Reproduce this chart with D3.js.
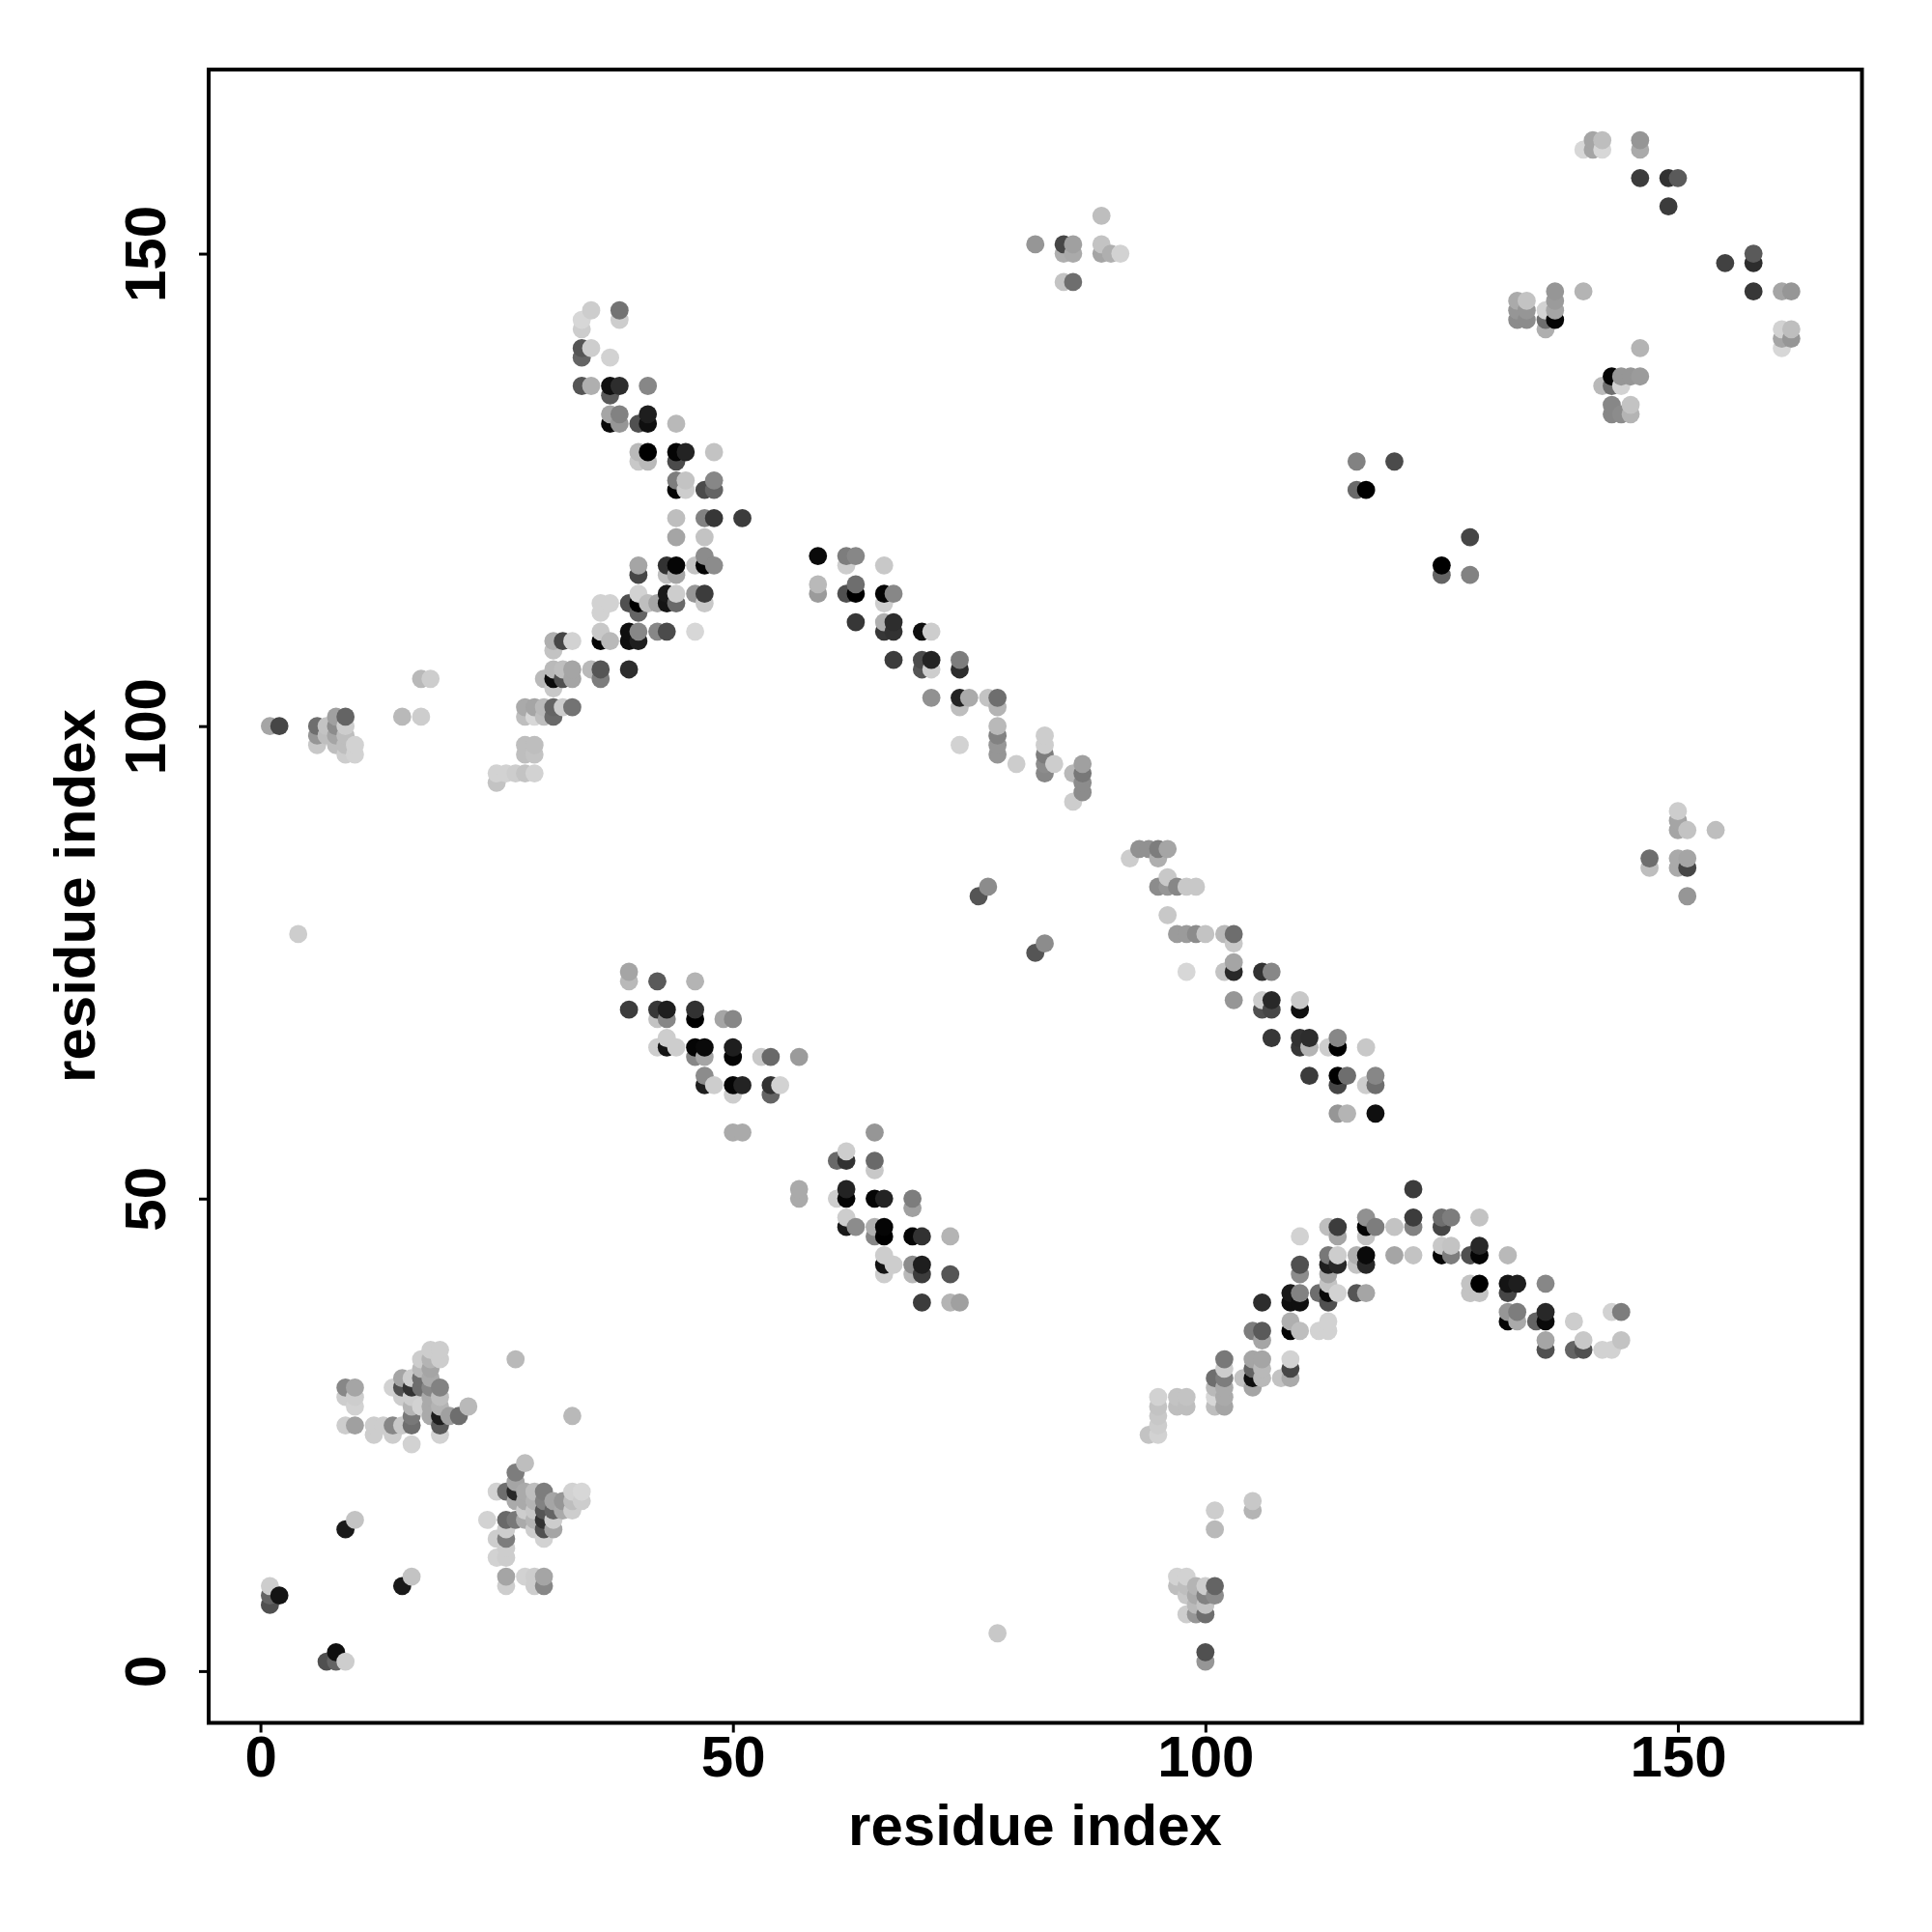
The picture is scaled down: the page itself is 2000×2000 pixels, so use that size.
<!DOCTYPE html>
<html><head><meta charset="utf-8">
<script src="https://cdnjs.cloudflare.com/ajax/libs/d3/7.8.5/d3.min.js"></script>
<style>html,body{margin:0;background:#fff}svg{display:block}text{font-family:"Liberation Sans",Arial,sans-serif;font-weight:700;fill:#000}</style>
</head><body><div id="c"></div>
<script>
// each contact: [residue i, residue j, grey level]
const lowerLeft=[[1,9,205],[1,8,100],[1,7,80],[2,8,20],[7,1,80],[8,1,100],[8,2,15],[9,1,205],[9,15,25],[10,16,195],[15,9,25],[16,10,195],[78,4,200],[4,78,205]];
const clusterA=[[9,30,135],[10,30,165],[9,29,205],[10,29,205],[10,28,210],[9,26,205],[10,26,160],[12,26,205],[12,25,205],[13,26,205],[14,25,205],[14,26,135],[15,26,200],[16,26,110],[16,27,120],[16,24,210],[14,30,210],[15,31,165],[15,30,80],[15,29,205],[16,31,205],[16,30,50],[16,29,205],[16,28,180],[17,33,205],[17,32,185],[17,31,110],[17,30,110],[17,28,210],[18,34,205],[18,33,180],[18,32,165],[18,31,170],[18,30,135],[18,29,170],[18,28,170],[18,27,170],[19,34,205],[19,33,205],[19,30,130],[19,29,190],[19,28,180],[19,27,30],[19,26,90],[19,25,210],[20,27,160],[21,27,110],[22,28,185],[27,33,185],[33,27,185]];
const clusterB=[[28,22,190],[27,21,125],[27,20,165],[25,19,210],[26,19,110],[27,19,40],[27,18,170],[28,19,170],[28,18,170],[28,17,205],[28,16,170],[29,19,190],[29,18,180],[29,17,200],[29,16,180],[29,15,205],[30,19,125],[30,18,130],[30,17,85],[30,16,50],[30,15,80],[30,14,210],[31,18,165],[31,17,100],[31,16,205],[31,15,165],[32,18,150],[32,17,170],[33,19,210],[33,18,190],[33,17,205],[34,19,215],[34,18,205],[24,16,210],[26,16,105],[27,16,120],[26,15,205],[26,14,125],[25,14,205],[25,12,210],[26,13,205],[26,12,205],[26,10,165],[26,9,205],[28,10,210],[29,10,205],[29,9,205],[30,10,165],[30,9,135]];
const arcRight=[[122,51,60],[122,48,60],[122,47,130],[120,47,195],[120,44,165],[122,44,195],[117,48,145],[117,47,5],[118,47,125],[117,46,195],[117,44,10],[117,43,40],[116,44,175],[116,43,195],[117,40,165],[116,40,85],[113,47,190],[114,47,60],[114,46,165],[110,46,210],[113,44,120],[114,44,205],[113,43,30],[114,43,40],[113,42,165],[113,41,195],[113,40,10],[114,40,210],[113,39,80],[112,40,110],[110,43,80],[110,42,140],[109,40,25],[110,40,130],[109,39,15],[110,39,15],[106,39,45],[109,37,175],[109,36,5],[110,36,190],[112,36,210],[113,37,210],[113,36,210],[105,36,125],[106,36,90],[106,35,165],[109,33,210],[109,32,70],[109,31,170],[108,31,195],[105,33,165],[106,33,165],[105,32,100],[106,32,185],[105,31,15],[106,31,185],[105,30,165],[104,31,195],[102,33,120],[102,32,205],[102,31,125],[102,30,170],[102,29,170],[102,28,165],[101,31,110],[101,30,185],[101,29,215],[101,28,190],[97,29,195],[98,29,195],[97,28,190],[98,28,190],[95,29,210],[95,28,195],[95,27,200],[95,26,205],[95,25,210],[94,25,195],[125,48,110],[126,48,125],[125,47,70],[129,48,195],[125,45,200],[126,45,195],[125,44,5],[126,44,125],[129,45,40],[128,44,80],[129,44,5],[132,44,185],[128,41,195],[129,41,0],[128,40,195],[129,40,195],[132,41,20],[133,41,30],[132,40,70],[136,41,135],[132,38,150],[133,38,125],[132,37,5],[133,37,170],[135,37,100],[136,38,40],[136,37,10],[139,37,205],[143,38,210],[144,38,125],[136,35,165],[136,34,80],[139,34,100],[140,35,200],[140,34,80],[142,34,210],[143,34,210],[144,35,195]];
const clusterC=[[101,17,205],[101,15,185],[105,18,200],[105,17,180],[97,10,210],[98,10,210],[97,9,190],[98,9,190],[99,9,180],[100,9,205],[101,9,100],[98,8,200],[99,8,170],[100,8,130],[101,8,140],[98,6,205],[99,7,185],[100,7,195],[99,6,150],[100,6,110],[100,2,80],[100,1,150]];
const helixMid=[[39,74,165],[39,73,185],[42,73,90],[46,73,180],[39,70,60],[42,70,55],[43,70,30],[42,69,195],[43,69,135],[46,70,50],[46,69,0],[49,69,165],[50,69,135],[42,66,205],[43,67,205],[43,66,20],[44,66,205],[46,66,5],[47,66,10],[46,65,135],[47,65,165],[50,66,30],[50,65,5],[53,65,200],[54,65,105],[57,65,155],[47,63,140],[47,62,30],[48,62,205],[50,62,5],[51,62,35],[50,61,205],[54,62,50],[55,62,210],[54,61,100],[50,57,170],[51,57,170],[65,57,150],[62,55,205],[61,54,105],[62,54,50],[65,54,105],[65,53,200],[57,51,170],[57,50,170],[61,50,205],[62,51,35],[62,50,5],[65,50,5],[66,50,35],[69,50,125],[69,49,160],[62,48,205],[62,47,25],[63,47,140],[65,47,175],[65,46,135],[66,47,5],[66,46,0],[69,46,5],[70,46,50],[73,46,180],[66,44,205],[66,43,20],[67,43,205],[66,42,205],[69,43,140],[69,42,185],[70,43,30],[70,42,60],[73,42,85],[70,39,60],[73,39,180],[74,39,160]];
const stripLeft=[[1,100,165],[2,100,70],[6,100,110],[6,99,150],[6,98,200],[7,100,195],[7,99,190],[8,101,160],[8,100,140],[8,99,165],[8,98,190],[9,101,100],[9,100,205],[9,99,190],[9,98,190],[9,97,205],[10,98,210],[10,97,210],[15,101,185],[17,101,205],[17,105,185],[18,105,205]];
const armUpper=[[25,95,210],[25,94,195],[26,95,210],[27,95,205],[28,95,195],[29,95,210],[28,98,190],[29,98,190],[28,97,190],[29,97,195],[28,102,170],[28,101,190],[29,102,165],[29,101,215],[30,102,185],[30,101,190],[31,102,100],[31,101,105],[32,102,205],[33,102,115],[31,106,185],[31,109,175],[31,108,195],[32,109,70],[33,109,210],[30,105,185],[31,105,10],[31,104,200],[32,106,190],[32,105,80],[33,106,165],[33,105,165],[35,106,185],[36,106,85],[36,105,125],[39,106,45],[36,113,210],[37,113,210],[36,112,210],[36,110,200],[36,109,5],[37,109,185],[39,110,15],[39,109,15],[40,110,135],[40,109,30],[42,110,135],[43,110,75],[46,110,215],[39,113,80],[40,114,210],[40,113,0],[40,112,100],[41,113,190],[42,113,165],[43,114,25],[43,113,20],[44,114,205],[44,113,105],[46,114,150],[47,114,60],[47,113,200],[40,117,165],[40,116,70],[43,117,50],[44,117,5],[43,116,190],[44,116,165],[46,117,195],[47,117,5],[47,118,140],[48,117,140],[44,120,165],[47,120,195]];
const armTop=[[35,144,205],[34,143,215],[34,142,205],[38,144,115],[38,143,205],[34,140,85],[35,140,205],[34,139,100],[37,139,210],[34,136,85],[35,136,175],[37,136,15],[38,136,45],[41,136,135],[37,135,90],[37,133,165],[38,133,130],[37,132,10],[38,132,150],[40,132,80],[41,133,30],[41,132,15],[44,132,185],[40,129,185],[41,129,0],[40,128,200],[41,128,185],[44,129,5],[45,129,35],[44,128,75],[48,129,195],[44,126,125],[45,126,195],[44,125,5],[45,125,205],[47,125,75],[48,126,135],[48,125,100],[44,122,190],[47,122,130],[48,122,55],[51,122,60]];
const helixDiagA=[[59,118,10],[62,118,125],[63,118,135],[62,117,205],[66,117,200],[59,115,185],[59,114,155],[62,114,80],[63,115,110],[63,114,0],[66,114,5],[67,114,135],[66,113,205],[63,111,55],[66,111,175],[67,111,45],[66,110,55],[67,110,50],[70,110,15],[71,110,205],[67,107,60],[70,107,75],[70,106,85],[71,107,35],[71,106,205],[74,107,125],[74,106,45],[71,103,145],[74,103,35],[75,103,170],[74,102,190],[77,103,195],[78,103,110],[78,102,180],[78,100,185],[78,99,130],[78,98,150],[78,97,150],[74,98,210],[80,96,205],[83,99,205],[83,98,205],[83,97,125],[83,96,140],[83,95,135],[84,96,205],[86,95,185],[87,96,160],[87,95,120],[87,94,140],[87,93,140],[86,92,205]];
const helixDiagB=[[93,87,145],[94,87,145],[95,87,125],[96,87,165],[92,86,205],[95,86,175],[96,84,200],[95,83,140],[96,83,150],[97,83,135],[98,83,200],[99,83,200],[96,80,200],[97,78,155],[98,78,155],[99,78,140],[100,78,195],[102,78,185],[103,78,110],[103,77,200],[98,74,215],[102,74,195],[103,75,165],[103,74,40],[106,74,50],[107,74,135],[103,71,150],[106,71,205],[107,71,40],[106,70,80],[107,70,70],[110,71,200],[110,70,15],[107,67,55],[110,67,50],[111,67,45],[110,66,55],[111,66,180],[113,66,205],[114,67,135],[114,66,0],[117,66,200],[111,63,60],[114,63,0],[115,63,110],[114,62,70],[117,62,205],[118,63,135],[118,62,110],[114,59,150],[115,59,180],[118,59,15]];
const upperRight=[[140,161,215],[141,162,165],[141,161,165],[142,162,190],[142,161,215],[146,162,150],[146,161,170],[146,158,60],[149,158,50],[150,158,90],[149,155,60],[155,149,65],[158,150,90],[158,149,45],[158,146,55],[161,146,165],[162,146,150],[161,142,210],[162,142,190],[161,141,165],[162,141,150],[161,140,215],[140,146,180],[133,145,170],[134,145,195],[133,144,150],[134,144,150],[133,143,140],[134,143,140],[137,146,150],[137,145,155],[137,144,165],[136,144,210],[136,143,110],[136,142,175],[137,143,5],[146,140,180],[143,137,5],[144,137,150],[145,137,150],[146,137,155],[142,136,185],[143,136,110],[144,136,210],[143,134,135],[143,133,135],[144,133,140],[145,134,195],[145,133,180]];
const topMiddle=[[82,151,150],[85,151,70],[86,151,160],[85,150,175],[86,150,170],[89,154,190],[89,151,195],[89,150,165],[90,150,175],[91,150,210],[85,147,195],[86,147,110]];
const sparse=[[76,82,85],[77,83,140],[82,76,85],[83,77,140],[116,128,130],[116,125,105],[117,125,0],[120,128,75],[125,117,0],[125,116,100],[128,120,70],[128,116,130]];
const farRight=[[147,86,110],[147,85,190],[150,91,205],[150,90,165],[150,89,165],[150,86,170],[150,85,170],[151,89,195],[151,86,165],[151,85,70],[151,82,150],[154,89,190]];
const xTicks=[0,50,100,150], yTicks=[0,50,100,150];
const xLabel="residue index", yLabel="residue index";

const contacts=[lowerLeft,clusterA,clusterB,arcRight,clusterC,helixMid,stripLeft,armUpper,armTop,helixDiagA,helixDiagB,upperRight,topMiddle,sparse,farRight].flat();
const seen=new Map(); contacts.forEach(d=>{const k=d[0]+"_"+d[1]; if(!seen.has(k)) seen.set(k,d);});
const pts=[...seen.values()].sort((a,b)=>d3.ascending(a[0],b[0])||d3.ascending(a[1],b[1]));

const svg=d3.select("#c").append("svg").attr("width",2000).attr("height",2000);
const x=d3.scaleLinear().domain([-5.48,169.48]).range([216,1927.5]);
const y=d3.scaleLinear().domain([-5.48,169.48]).range([1783.5,72]);
svg.append("g").selectAll("circle").data(pts).join("circle")
  .attr("cx",d=>x(d[0])).attr("cy",d=>y(d[1])).attr("r",9.4)
  .attr("fill",d=>d3.rgb(d[2],d[2],d[2]));
svg.append("rect").attr("x",216).attr("y",72).attr("width",1711.5).attr("height",1711.5).attr("fill","none").attr("stroke","#000").attr("stroke-width",4);
const tick=(g)=>{g.selectAll(".domain").remove();g.selectAll("line").attr("stroke","#000").attr("stroke-width",3);};
const ax=svg.append("g").attr("transform","translate(0,1783.5)").call(d3.axisBottom(x).tickValues(xTicks).tickFormat(d3.format("d")).tickSize(10).tickPadding(2.6)).call(tick);
ax.selectAll("text").attr("font-size",60).attr("font-family","Liberation Sans").attr("font-weight",700).attr("dy","0.71em");
const ay=svg.append("g").attr("transform","translate(216,0)").call(d3.axisLeft(y).tickValues(yTicks).tickFormat(d3.format("d")).tickSize(10)).call(tick);
ay.selectAll("text").attr("font-size",60).attr("font-family","Liberation Sans").attr("font-weight",700)
  .attr("text-anchor","middle").attr("dy",null).attr("x",null)
  .attr("transform",()=>`translate(-45,0) rotate(-90)`);
svg.append("text").attr("x",1071.5).attr("y",1910).attr("text-anchor","middle").attr("font-size",60).text(xLabel);
svg.append("text").attr("transform","translate(98,927.5) rotate(-90)").attr("text-anchor","middle").attr("font-size",60).text(yLabel);
</script></body></html>
